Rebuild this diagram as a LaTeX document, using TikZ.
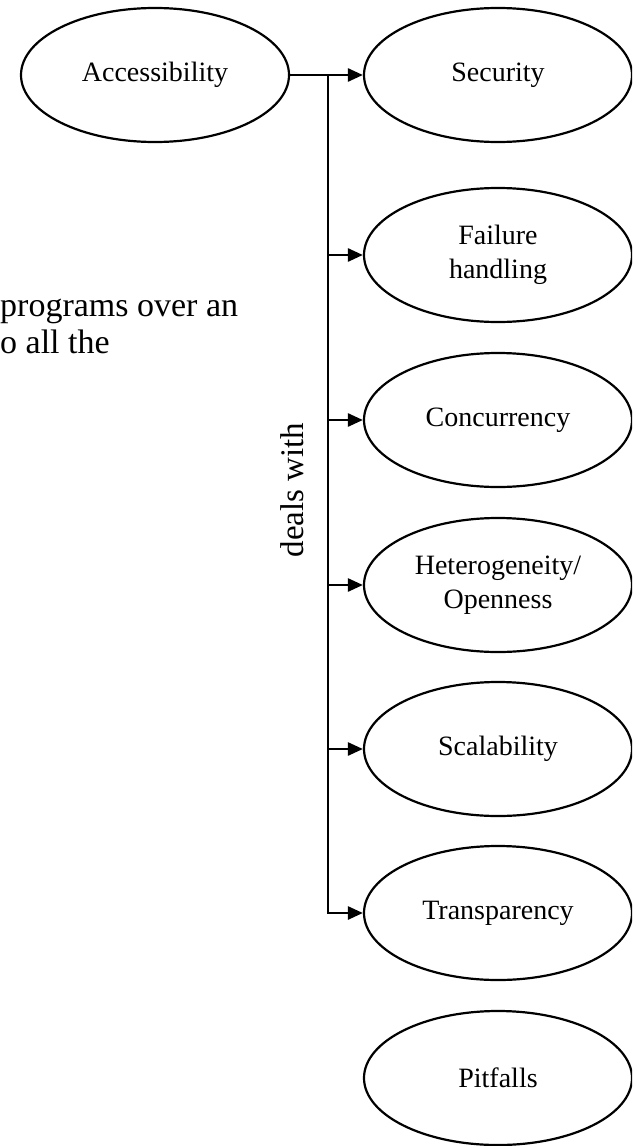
\documentclass[tikz,border=0pt]{standalone}
\usepackage{fontspec}
\setmainfont{Liberation Serif}
\usetikzlibrary{arrows.meta,shapes.geometric}

\tikzset{
  topic/.style={ellipse, draw, line width=2.2pt, minimum width=268pt, minimum height=134pt,
    inner sep=0pt, align=center, font=\fontsize{28}{34}\selectfont},
  link/.style={line width=2.6pt},
  linkarrow/.style={link, -{Triangle[length=15pt,width=13pt]}},
  bodytext/.style={inner sep=0pt, anchor=base west, font=\fontsize{34}{37}\selectfont},
}

\begin{document}
\begin{tikzpicture}[x=1pt,y=-1pt]
  \useasboundingbox (0,0) rectangle (632,1146);
  \clip (0,0) rectangle (632,1146);

  % left-hand source topic and the right-hand column of concerns
  \node[topic] (acc)   at (155,75)  {Accessibility};
  \node[topic] (sec)   at (498,75)  {Security};
  \node[topic] (fail)  at (498,255) {Failure\\handling};
  \node[topic] (conc)  at (498,420) {Concurrency};
  \node[topic] (het)   at (498,585) {Heterogeneity/\\Openness};
  \node[topic] (scal)  at (498,749) {Scalability};
  \node[topic] (trans) at (498,913) {Transparency};
  \node[topic] (pit)   at (498,1078) {Pitfalls};

  % fragment of running text
  \node[bodytext] (line1) at (0,316) {programs over an};
  \node[bodytext] (line2) at (0,353) {o all the};

  % trunk of the bracket
  \coordinate (jtop) at (328,75);
  \draw[linkarrow] (acc.east) -- (sec.west);
  \draw[linkarrow] (jtop) |- (trans.west);
  \foreach \t in {fail,conc,het,scal}
    \draw[linkarrow] (jtop |- \t.west) -- (\t.west);

  % trunk label
  \node[rotate=90, anchor=base, inner sep=0pt, font=\fontsize{33}{37}\selectfont] (dw) at (303,490) {deals with};
\end{tikzpicture}
\end{document}
